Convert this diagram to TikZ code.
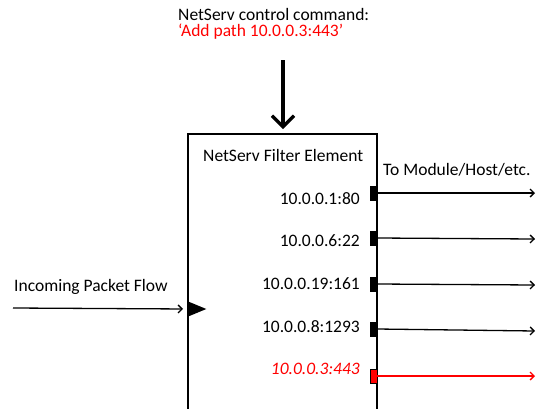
\documentclass[tikz,border=0pt]{standalone}
\usepackage{fontspec}
\setmainfont{Carlito}
\usepackage{xcolor}
\usetikzlibrary{arrows.meta,shapes.geometric}
\definecolor{ink}{HTML}{000000}
\definecolor{alert}{HTML}{FF0000}
\tikzset{
  boxline/.style={draw=ink, line width=1.6pt},
  flowline/.style={draw=ink, line width=1.3pt, -{Straight Barb[length=4pt,width=8pt]}},
  cmdline/.style={draw=ink, line width=3.2pt, -{Straight Barb[length=11pt,width=22pt]}},
  portbox/.style={rectangle, fill=ink, draw=ink, line width=0.6pt, minimum width=7pt, minimum height=14pt, inner sep=0pt},
  lab/.style={text=ink, inner sep=0pt, font=\fontsize{17.5}{20}\selectfont},
  addr/.style={lab, anchor=east},
}

\begin{document}
\begin{tikzpicture}[x=1pt,y=-1pt]
  \useasboundingbox (0,0) rectangle (536,408);
  % filter element, open at the bottom
  \draw[boxline] (188,410) -- (188,134) -- (377,134) -- (377,410);
  \node[lab,anchor=west] (cmdA) at (178,14) {NetServ control command:};
  \node[lab,anchor=west,text=alert] (cmdB) at (178,32) {`Add path 10.0.0.3:443'};
  \coordinate (cmdtop) at (283,60);
  \coordinate (cmdtip) at (283,129);
  \draw[cmdline] (cmdtop) -- (cmdtip);
  \node[lab,anchor=west] (title) at (203,155) {NetServ Filter Element};
  \node[lab,anchor=west] (dest) at (383,170) {To Module/Host/etc.};
  % ports
  \node[portbox] (p1) at (373.5,193) {};
  \node[portbox] (p2) at (373.5,238) {};
  \node[portbox] (p3) at (373.5,284) {};
  \node[portbox] (p4) at (373.5,329) {};
  \node[portbox,fill=alert] (p5) at (373.5,376) {};
  \node[addr] (a1) at (360,199) {10.0.0.1:80};
  \node[addr] (a2) at (360,241) {10.0.0.6:22};
  \node[addr] (a3) at (360,284) {10.0.0.19:161};
  \node[addr] (a4) at (360,327) {10.0.0.8:1293};
  \node[addr,text=alert,font=\fontsize{17.5}{20}\selectfont\itshape] (a5) at (360,369) {10.0.0.3:443};
  \coordinate (o1) at (535,193);
  \coordinate (o2) at (535,239);
  \coordinate (o3) at (535,285);
  \coordinate (o4) at (535,331);
  \coordinate (o5) at (535,376);
  \draw[flowline] (p1.east) -- (o1);
  \draw[flowline] (p2.east) -- (o2);
  \draw[flowline] (p3.east) -- (o3);
  \draw[flowline] (p4.east) -- (o4);
  \draw[flowline,draw=alert,-{Straight Barb[length=4pt,width=8pt,color=alert]}] (p5.east) -- (o5);
  % incoming flow
  \node[lab,anchor=west] (inlab) at (14,287) {Incoming Packet Flow};
  \node[isosceles triangle, fill=ink, inner sep=0pt, minimum height=14pt, minimum width=15pt, anchor=west] (inport) at (188,309) {};
  \coordinate (instart) at (13,308);
  \draw[flowline,shorten >=5pt] (instart) -- (inport.west);
\end{tikzpicture}
\end{document}
